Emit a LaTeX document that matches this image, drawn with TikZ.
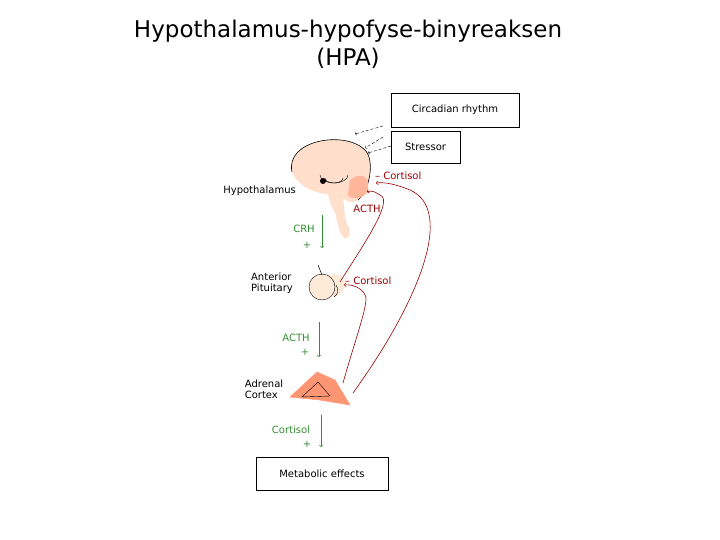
\documentclass[tikz,border=0pt]{standalone}
\usepackage{fontspec}
\setmainfont{DejaVu Sans}
\begin{document}
\begin{tikzpicture}[x=1pt,y=-1pt,
 box/.style={draw,line width=0.8pt,inner sep=0pt},
 lbl/.style={font=\fontsize{10}{11}\selectfont,inner sep=0pt},
 grn/.style={draw=green!45!black!80,->,line width=0.6pt},
 red/.style={draw=red!60!black,->,line width=0.6pt},
 gtxt/.style={lbl,text=green!45!black!80},
 rtxt/.style={lbl,text=red!60!black}]
\useasboundingbox (0,0) rectangle (720,540);
\node[font=\fontsize{23}{28}\selectfont,align=center] (title) at (348,44) {Hypothalamus-hypofyse-binyreaksen\\(HPA)};
\node[box,minimum width=128pt,minimum height=34pt] (circ) at (455,110) {};
\node[lbl] at (circ.center) {Circadian rhythm};
\node[box,minimum width=69pt,minimum height=32pt] (stress) at (425.5,147) {};
\node[lbl] at (stress.center) {Stressor};
\coordinate (s1) at (383,126); \coordinate (e1) at (355,134);
\coordinate (s2) at (383,137); \coordinate (e2) at (365,148);
\coordinate (s3) at (391,146); \coordinate (e3) at (368,153);
\draw[->,densely dashed] (s1)--(e1); \draw[->,densely dashed] (s2)--(e2); \draw[->,densely dashed] (s3)--(e3);
% brain
\fill[red!25!orange!20] (292,172) .. controls (285,140) and (345,130) .. (365,150)
 .. controls (375,160) and (370,190) .. (358,200) .. controls (350,205) and (345,200) .. (340,195)
 .. controls (320,195) and (300,190) .. (292,172) -- cycle;
\draw[line width=0.6pt] (292,172) .. controls (285,140) and (345,130) .. (365,150)
 .. controls (375,160) and (370,190) .. (358,200);
\fill[red!45!orange!40] (350,180) .. controls (360,172) and (370,175) .. (368,190) .. controls (365,200) and (350,200) .. (348,195) -- cycle;
\fill[red!20!orange!20,draw,line width=0.5pt] (330,185) .. controls (325,200) and (335,210) .. (336,215) .. controls (338,225) and (340,235) .. (345,238) .. controls (352,236) and (350,230) .. (347,225) .. controls (342,210) and (345,200) .. (340,185) -- cycle;
\draw (320,175) arc (180:0:14 and 8); \draw (325,178) arc (180:0:9 and 5);
\fill (323,181) circle (3);
\node[lbl,anchor=east] (hyp) at (296,191) {Hypothalamus};
\node[rtxt,anchor=west] (c1) at (375,176) {– Cortisol};
\node[rtxt] (acth1) at (367,209) {ACTH};
\coordinate (g1a) at (322,215); \coordinate (g1b) at (322,248);
\draw[grn] (g1a)--(g1b);
\node[gtxt] at (304,229) {CRH}; \node[gtxt] at (307,245) {+};
% pituitary
\fill[red!15!orange!15] (322,287) circle (13); \fill[red!15!orange!15] (334,285) circle (11);
\draw[line width=0.5pt] (318,265)--(322,275); \draw (322,287) circle (13); \draw (336,285) arc (-40:60:8);
\node[lbl,align=left] (pit) at (272,283.5) {Anterior\\Pituitary};
\node[rtxt,anchor=west] (c2) at (345,281) {– Cortisol};
\coordinate (g2a) at (319,322); \coordinate (g2b) at (319,357);
\draw[grn] (g2a)--(g2b);
\node[gtxt] at (296,338) {ACTH}; \node[gtxt] at (305,352) {+};
% adrenal
\fill[red!50!orange!55,draw,line width=0.5pt] (317,372) -- (335,380) -- (350,405) -- (320,400) -- (290,397) -- cycle;
\draw (318,382)--(330,396)--(302,397)--cycle;
\node[lbl,align=left] (adr) at (264,389.5) {Adrenal\\Cortex};
\coordinate (g3a) at (321,415); \coordinate (g3b) at (321,447);
\draw[grn] (g3a)--(g3b);
\node[gtxt] at (291,430) {Cortisol}; \node[gtxt] at (307,444) {+};
\node[box,minimum width=132pt,minimum height=33pt] (met) at (322,473.5) {};
\node[lbl] at (met.center) {Metabolic effects};
% feedback
\coordinate (fa) at (343,383); \coordinate (fb) at (340,282); \coordinate (fc) at (353,393);
\coordinate (ta) at (344,285); \coordinate (tb) at (367,192); \coordinate (tc) at (376,183);
\draw[red] (fa) .. controls (355,340) and (370,300) .. (365,295) .. controls (362,288) and (352,284) .. (ta);
\draw[red] (fb) .. controls (360,250) and (395,200) .. (380,195) .. controls (375,192) and (372,190) .. (tb);
\draw[red] (fc) .. controls (420,300) and (455,210) .. (410,190) .. controls (395,184) and (385,182) .. (tc);
\end{tikzpicture}
\end{document}
